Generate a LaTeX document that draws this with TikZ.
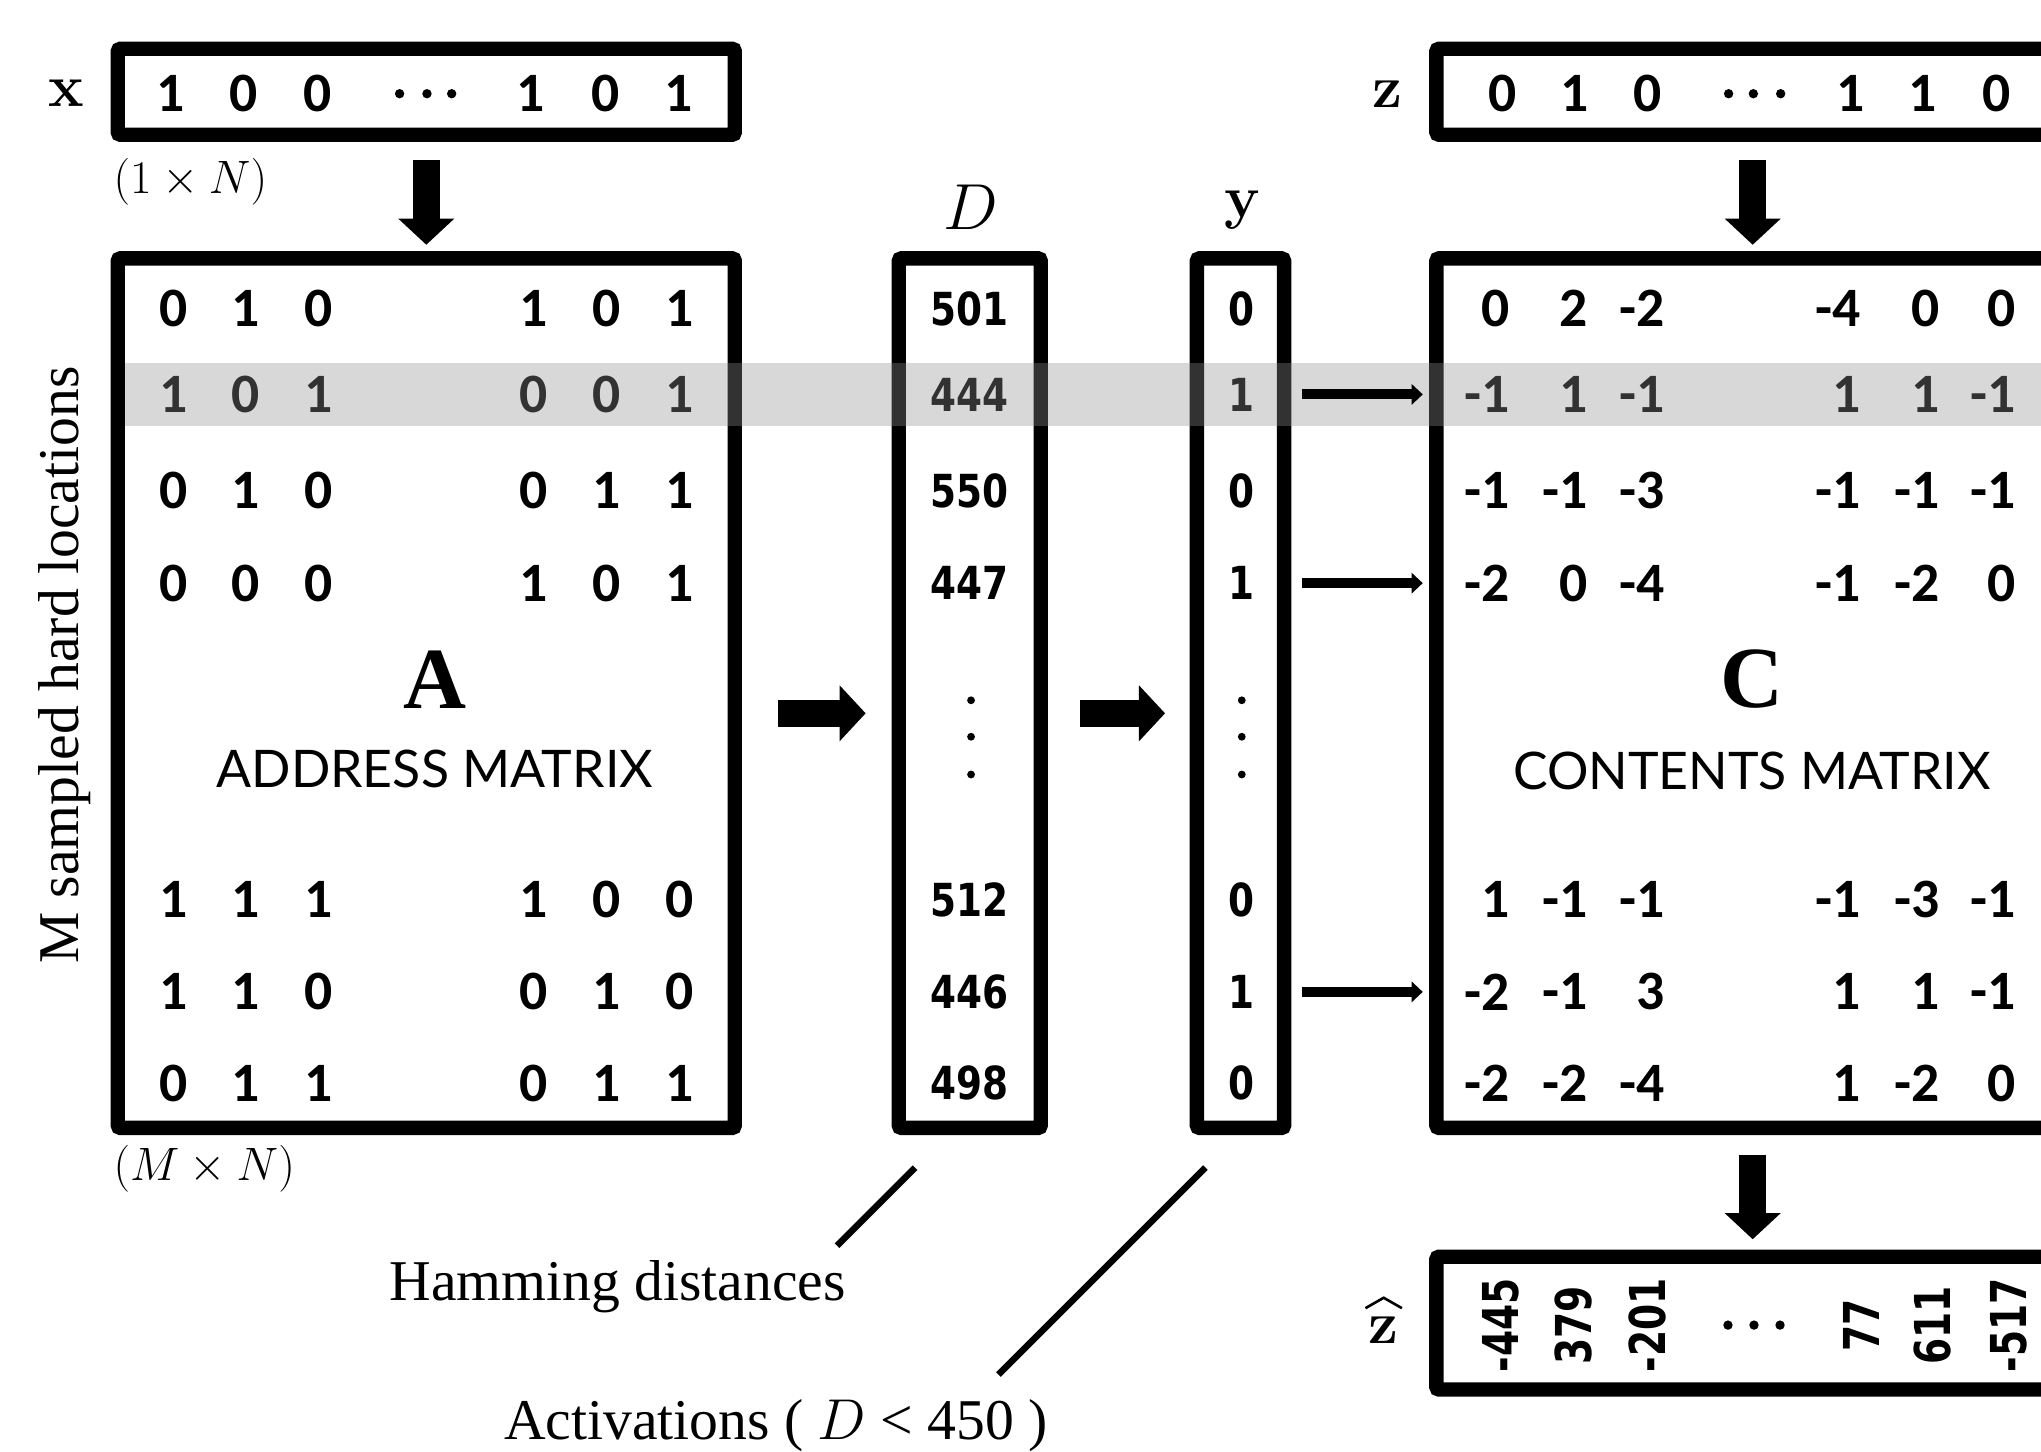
\documentclass[tikz,border=0pt]{standalone}
\usepackage{fix-cm}
\usepackage[no-math]{fontspec}
\setmainfont{Liberation Serif}
\newfontfamily\carlito{Carlito}
\newfontfamily\dvs{DejaVu Sans}
\newfontfamily\lato{Lato}
\usepackage{graphicx}
\usetikzlibrary{arrows.meta,calc}
\newcommand\hsq[1]{\scalebox{0.82}[1]{#1}}
\newcommand\zsq[1]{\scalebox{0.76}[1]{#1}}
\tikzset{
 box/.style={draw, fill=white, line width=11pt, rounded corners=2pt, inner sep=0pt, outer sep=5.5pt},
 dig/.style={inner sep=0pt, font=\carlito\bfseries\fontsize{42.7pt}{50pt}\selectfont},
 cdig/.style={dig, anchor=east},
 val/.style={inner sep=0pt, font=\dvs\bfseries\fontsize{35pt}{40pt}\selectfont},
 zval/.style={inner sep=0pt, rotate=90, font=\dvs\bfseries\fontsize{38pt}{44pt}\selectfont},
 lbl/.style={inner sep=0pt, font=\fontsize{46pt}{52pt}\selectfont},
 dimlbl/.style={inner sep=0pt, font=\fontsize{36pt}{42pt}\selectfont},
 txt/.style={inner sep=0pt, font=\fontsize{44.3pt}{52pt}\selectfont},
 bigletter/.style={inner sep=0pt, font=\bfseries\fontsize{67pt}{72pt}\selectfont},
 caption/.style={inner sep=0pt, font=\lato\fontsize{39.8pt}{46pt}\selectfont},
 blk/.style={line width=21pt, -{Triangle[length=20pt,width=43pt,line width=0pt]}},
 thinarr/.style={line width=7.7pt, -{Triangle[length=8.5pt,width=16pt,line width=0pt]}},
 annot/.style={line width=5pt},
 hatline/.style={line width=2pt, line join=miter},
 band/.style={fill={rgb,255:red,146;green,146;blue,146}, fill opacity=0.35},
}
\begin{document}
\begin{tikzpicture}[x=1pt,y=-1pt]
\useasboundingbox (0,0) rectangle (1568,1115);
\clip (0,0) rectangle (1568,1115);
\fill[white] (0,0) rectangle (1568,1115);

% boxes
\node[box, minimum width=474pt, minimum height=66pt] (xb) at (327.5,70.5) {};
\node[box, minimum width=474pt, minimum height=668pt] (Ab) at (327.5,532.5) {};
\node[box, minimum width=109pt, minimum height=668pt] (Db) at (745,532.5) {};
\node[box, minimum width=67pt, minimum height=668pt] (yb) at (953,532.5) {};
\node[box, minimum width=486pt, minimum height=66pt] (zb) at (1346.5,70.5) {};
\node[box, minimum width=486pt, minimum height=668pt] (Cb) at (1346.5,532.5) {};
\node[box, minimum width=486pt, minimum height=102pt] (zhb) at (1346.5,1016.5) {};

% labels
\node[lbl] (xl) at (51,71.5) {$\mathbf{x}$};
\node[lbl] (zl) at (1066,72) {$\mathbf{z}$};
\node[lbl] (yl) at (955,161) {$\mathbf{y}$};
\node[inner sep=0pt, font=\fontsize{50pt}{56pt}\selectfont] (Dl) at (746,159) {$D$};
\node[lbl] (zhl) at (1063,1022) {$\mathbf{z}$};
\draw[hatline] ($(zhl)+(-14,-17)$) -- ($(zhl)+(0,-25)$) -- ($(zhl)+(14,-17)$);
\node[dimlbl, anchor=west] (xdim) at (87,139.5) {$(1\times N)$};
\node[dimlbl, anchor=west] (adim) at (87,898) {$(M\times N)$};

% x and z vectors
\foreach \v [count=\c] in {1,0,0,1,0,1} {
  \pgfmathsetmacro\xx{{131,187,244,408,465,521}[\c-1]}
  \node[dig] (x-\c) at (\xx,72) {\v};
}
\foreach \v [count=\c] in {0,1,0,1,1,0} {
  \pgfmathsetmacro\xx{{1154,1210,1266,1422,1477,1534}[\c-1]}
  \node[dig] (z-\c) at (\xx,72) {\v};
}
\foreach \xx in {307,328,347} \fill (\xx,72) circle (3.6);
\foreach \xx in {1328,1347,1368} \fill (\xx,72) circle (3.6);

% A matrix
\foreach \yy/\vals in {237/{0,1,0,1,0,1},303/{1,0,1,0,0,1},377/{0,1,0,0,1,1},448/{0,0,0,1,0,1},691/{1,1,1,1,0,0},762/{1,1,0,0,1,0},832/{0,1,1,0,1,1}}{
  \foreach \v [count=\c] in \vals {
    \pgfmathsetmacro\xx{{133,189,245,410,466,522}[\c-1]}
    \node[dig] (a-\yy-\c) at (\xx,\yy) {\v};
  }
}
% C matrix
\foreach \yy/\vals in {237/{0,2,-2,-4,0,0},303/{-1,1,-1,1,1,-1},377/{-1,-1,-3,-1,-1,-1},448/{-2,0,-4,-1,-2,0},691/{1,-1,-1,-1,-3,-1},762/{-2,-1,3,1,1,-1},832/{-2,-2,-4,1,-2,0}}{
  \foreach \v [count=\c] in \vals {
    \pgfmathsetmacro\xx{{1160,1220,1279,1430,1490,1549}[\c-1]}
    \node[cdig] (c-\yy-\c) at (\xx,\yy) {\v};
  }
}
\node[bigletter] (Al) at (334,522) {A};
\node[caption] (Acap) at (334,591) {ADDRESS MATRIX};
\node[bigletter] (Cl) at (1346,522) {C};
\node[caption] (Ccap) at (1346,592) {CONTENTS MATRIX};

% D and y vectors
\foreach \yy/\v [count=\i] in {237/501,303/444,377/550,448/447,691/512,762/446,832/498}
  \node[val] (d\i) at (745,\yy) {\hsq{\v}};
\foreach \yy/\v [count=\i] in {237/0,303/1,377/0,448/1,691/0,762/1,832/0}
  \node[val] (y\i) at (953.5,\yy) {\hsq{\v}};
\foreach \yy in {538,566,595} {\fill (746,\yy) circle (3); \fill (954,\yy) circle (3);}

% z hat vector
\foreach \v [count=\c] in {-445,379,-201,77,611,-517} {
  \pgfmathsetmacro\xx{{1153,1208.5,1265.5,1430,1485,1543}[\c-1]}
  \node[zval] (zh-\c) at (\xx,1018) {\zsq{\v}};
}
\foreach \xx in {1327.5,1347.5,1367.5} \fill (\xx,1018) circle (3.6);

% block arrows
\draw[blk] ([yshift=-14pt]xb.south) -- ([yshift=5pt]Ab.north);
\draw[blk] ([yshift=-14pt]zb.south) -- ([yshift=5pt]Cb.north);
\draw[blk] ([yshift=-15pt]Cb.south) -- ([yshift=8pt]zhb.north);
\draw[blk] ([xshift=28pt,yshift=-15.5pt]Ab.east) -- ([xshift=-20pt,yshift=-15.5pt]Db.west);
\draw[blk] ([xshift=25pt,yshift=-15.5pt]Db.east) -- ([xshift=-19pt,yshift=-15.5pt]yb.west);

% highlight band
\fill[band] (96,279) rectangle (1568,327);

% activation arrows
\foreach \i in {2,4,6}
  \draw[thinarr] ($(yb.east |- y\i)+(8,0)$) -- ($(Cb.west |- y\i)+(-5,0)$);

% annotations
\coordinate (h1) at (703,897);
\coordinate (h2) at (643,957);
\coordinate (g1) at (926,897);
\coordinate (g2) at (767,1056);
\draw[annot] (h1) -- (h2);
\draw[annot] (g1) -- (g2);
\node[txt, anchor=base west] (hl) at (299,999) {Hamming distances};
\node[txt, anchor=base west] (al) at (387,1106) {Activations ( $D$ < 450 )};
\node[txt, rotate=90, anchor=base] (ml) at (60,511) {M sampled hard locations};
\end{tikzpicture}
\end{document}
